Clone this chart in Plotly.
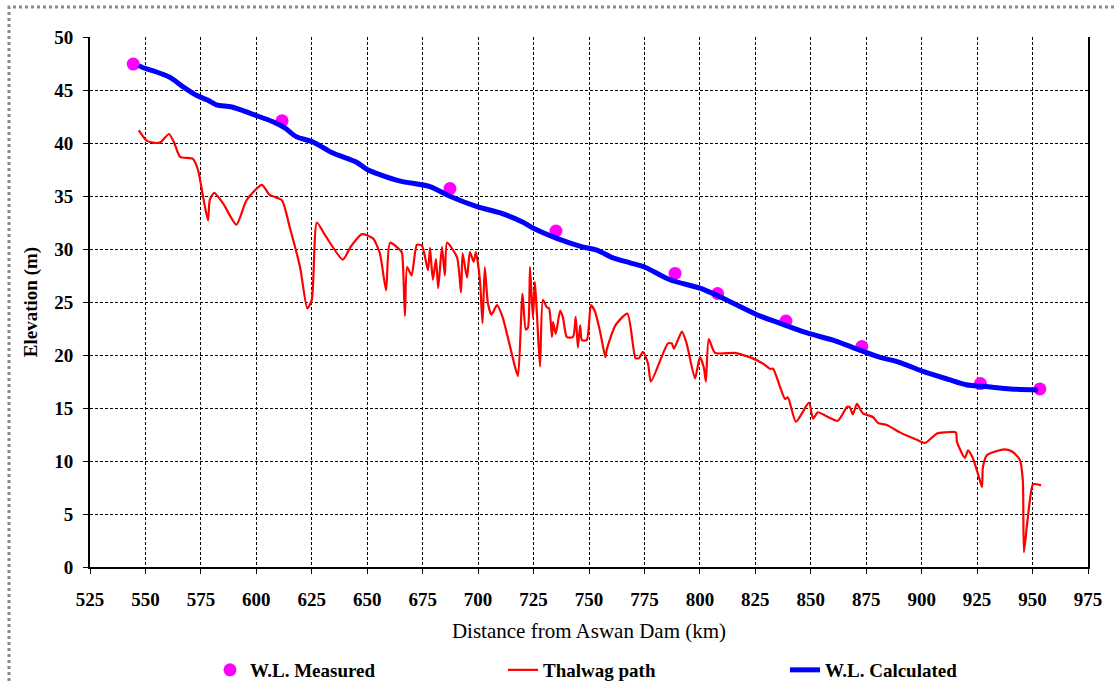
import plotly.graph_objects as go

# Thalweg path
thal_km = [547, 550.7, 555, 557, 560.6, 563, 565.6, 571.4, 573.7, 576, 578.2, 579, 581, 585, 591, 595.6,
           602.5, 606, 611.5, 615, 619.7, 623, 625, 627.3, 631, 639, 642.5, 647.6, 652.6, 655.7, 658.5,
           660.3, 664.8, 665.7, 667, 668, 670, 672.4, 674.7, 677.4, 678.3, 679.6, 681, 682, 683.7, 685,
           686, 690.5, 692.3, 693, 695, 696.3, 698, 699, 700.8, 702, 703, 704.4, 706, 708.5, 711, 716.6,
           718, 720, 721.5, 722.5, 723.4, 724.7, 725.6, 726.5, 727.9, 729.2, 731, 732, 733.3, 733.8, 735,
           737, 738.3, 740, 742.8, 744, 745, 746, 746.8, 749, 750.9, 752.7, 755, 757.4, 758, 761.9, 767.3,
           771, 772.5, 774.3, 776.6, 777.9, 785.6, 787.3, 788.3, 791.9, 794, 797.8, 800, 801.8, 802.7, 804,
           806.8, 815.8, 819.4, 822.5, 828.4, 831.6, 833, 838.4, 839.7, 843.3, 849.2, 851, 853.2, 855.5,
           862.2, 866.3, 867.5, 869, 870.8, 873.5, 878, 880.3, 884.3, 890.2, 897.8, 901.5, 906.9, 910.5,
           915.4, 915.9, 919.5, 920.9, 923, 925.8, 927.2, 927.6, 929.4, 933.9, 937.5, 941.1, 944.3, 945.6,
           946.1, 947.4, 948.8, 950.2, 953.8]
thal_el = [41.2, 40.2, 40.0, 40.1, 40.85, 40.0, 38.7, 38.5, 37.45, 34.9, 32.7, 34.6, 35.3, 34.3, 32.3, 34.6,
           36.05, 35.1, 34.6, 32.1, 28.3, 24.4, 25.2, 32.5, 31.3, 29.0, 30.2, 31.4, 31.0, 29.6, 26.1,
           30.6, 29.9, 29.6, 23.7, 28.3, 27.5, 30.4, 30.3, 28.0, 30.1, 27.1, 29.05, 26.3, 30.2, 27.5,
           30.6, 29.2, 25.9, 29.6, 27.3, 29.7, 28.8, 29.7, 27.1, 23.0, 28.3, 24.9, 23.8, 24.7, 23.6, 18.9,
           18.0, 25.8, 22.4, 22.6, 28.3, 23.5, 26.9, 24.0, 18.9, 25.2, 24.5, 24.4, 21.7, 23.1, 22.0,
           24.2, 23.5, 21.7, 21.7, 23.6, 20.7, 22.8, 21.4, 21.4, 24.7, 24.1, 22.2, 19.8, 20.5, 22.8, 23.9,
           19.7, 19.7, 20.3, 19.2, 17.5, 21.1, 21.1, 20.6, 22.2, 21.1, 17.8, 19.8, 18.8, 17.5, 21.5,
           20.2, 20.2, 20.0, 19.8, 19.2, 18.7, 18.7, 15.85, 16.0, 13.7, 15.5, 14.0, 14.6, 14.4,
           13.8, 15.1, 15.1, 14.4, 15.4, 14.5, 14.15, 13.6, 13.4, 12.7, 12.0, 11.7, 12.6, 12.7,
           12.7, 11.8, 10.3, 11.0, 10.3, 8.5, 7.55, 9.4, 10.55, 10.95, 11.1, 10.85, 10.1, 8.2,
           1.4, 3.8, 6.3, 7.8, 7.7]

# Calculated water level
calc_km = [547, 549, 555, 561, 567, 573, 578, 582, 589, 598.5, 607.5, 613, 618, 625.5, 634.5, 645, 650,
           656, 665, 678, 687, 699.5, 710, 720, 724.5, 735.5, 747, 753.5, 761, 768.5, 775, 786.5, 800,
           809, 825.7, 836, 848, 860, 869, 881, 890, 900, 912, 920, 930, 940, 952.4]
calc_el = [47.3, 47.1, 46.7, 46.2, 45.3, 44.5, 44.05, 43.6, 43.4, 42.7, 42.0, 41.4, 40.6, 40.1, 39.05, 38.2, 37.5,
           37.0, 36.4, 35.9, 35.0, 34.0, 33.4, 32.55, 32.0, 31.0, 30.2, 29.9, 29.15, 28.7, 28.3, 27.1, 26.3,
           25.5, 23.8, 23.0, 22.1, 21.4, 20.7, 19.8, 19.3, 18.5, 17.7, 17.2, 17.0, 16.8, 16.7]

# Measured water level
meas_km = [544.5, 611.6, 687.3, 735.1, 788.8, 808, 838.8, 873, 926.5, 953.3]
meas_el = [47.45, 42.1, 35.7, 31.7, 27.7, 25.8, 23.2, 20.8, 17.3, 16.8]

x_ticks = list(range(525, 976, 25))
y_ticks = list(range(0, 51, 5))

FONT = "Liberation Serif"

fig = go.Figure()
fig.add_trace(go.Scatter(x=meas_km, y=meas_el, mode="markers", name="<b>W.L. Measured</b>",
                         marker=dict(color="#FF00FF", size=13), legend="legend"))
fig.add_trace(go.Scatter(x=thal_km, y=thal_el, mode="lines", name="<b>Thalwag path</b>",
                         line=dict(color="#FF0000", width=2.2, shape="spline", smoothing=0.6),
                         legend="legend2"))
fig.add_trace(go.Scatter(x=calc_km, y=calc_el, mode="lines", name="<b>W.L. Calculated</b>",
                         line=dict(color="#0000FF", width=5, shape="spline", smoothing=0.8),
                         legend="legend3"))

L = 90; R = 29; T = 37; B = 117
W = 1117; H = 684
pw = W - L - R; ph = H - T - B

def px_to_paper_x(px):
    return (px - L) / pw

def py_to_paper_y(py):
    return (H - B - py) / ph

leg_common = dict(orientation="h", yanchor="middle", y=py_to_paper_y(670), xanchor="left",
                  font=dict(family=FONT, size=19, color="black"), bgcolor="rgba(0,0,0,0)",
                  borderwidth=0)

fig.update_layout(
    width=W, height=H,
    margin=dict(l=L, r=R, t=T, b=B, autoexpand=False),
    paper_bgcolor="white", plot_bgcolor="white",
    font=dict(family=FONT, color="black"),
    showlegend=True,
    legend=dict(leg_common, x=px_to_paper_x(210)),
    legend2=dict(leg_common, x=px_to_paper_x(503)),
    legend3=dict(leg_common, x=px_to_paper_x(785)),
    xaxis=dict(range=[525, 975], tickvals=x_ticks, ticktext=["<b>%d</b>" % v for v in x_ticks],
               showgrid=True, gridcolor="black", griddash="3px,2px", gridwidth=1,
               showline=True, linecolor="black", linewidth=2, mirror=False,
               ticks="outside", ticklen=5, tickcolor="black", tickwidth=1,
               ticklabelstandoff=9,
               tickfont=dict(family=FONT, size=19, color="black"),
               title=dict(text="Distance from Aswan Dam (km)", font=dict(family=FONT, size=21, color="black"),
                          standoff=15),
               zeroline=False, automargin=False),
    yaxis=dict(range=[0, 50], tickvals=y_ticks, ticktext=["<b>%d</b>" % v for v in y_ticks],
               showgrid=True, gridcolor="black", griddash="3px,2px", gridwidth=1,
               showline=True, linecolor="black", linewidth=2, mirror=True,
               ticks="outside", ticklen=5, tickcolor="black", tickwidth=1,
               ticklabelstandoff=6,
               tickfont=dict(family=FONT, size=19, color="black"),
               title=dict(text="<b>Elevation (m)</b>", font=dict(family=FONT, size=19, color="black"),
                          standoff=12),
               zeroline=False, automargin=False),
    shapes=[dict(type="rect", xref="paper", yref="paper",
                 x0=px_to_paper_x(9), x1=px_to_paper_x(1140),
                 y0=py_to_paper_y(710), y1=py_to_paper_y(7),
                 line=dict(color="#8a8a8a", width=3, dash="dot"), fillcolor="rgba(0,0,0,0)",
                 layer="below")],
)

fig.write_html("out.html")
